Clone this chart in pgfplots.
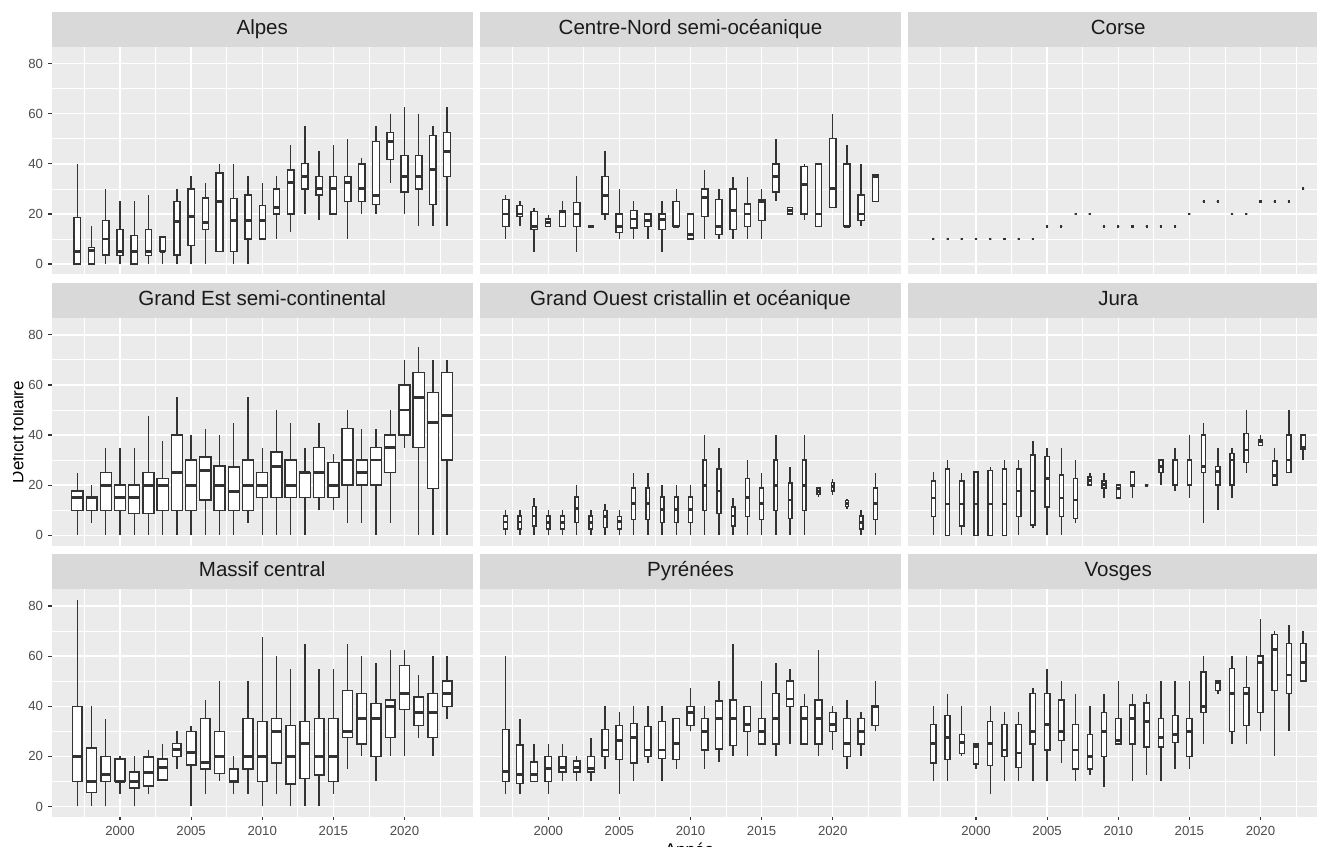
\documentclass[border=0pt]{standalone}
\usepackage{pgfplots}
\pgfplotsset{compat=1.18}
\usepackage{pgfplotstable}
\usepgfplotslibrary{statistics}
\usepackage{fontspec}
\setmainfont{Liberation Sans}

\definecolor{panelbg}{HTML}{EBEBEB}
\definecolor{stripbg}{HTML}{D9D9D9}
\definecolor{striptext}{HTML}{1A1A1A}
\definecolor{labelgray}{HTML}{4D4D4D}
\definecolor{tickgray}{HTML}{333333}
\definecolor{boxgray}{HTML}{333333}

% columns: year, lower whisker, lower quartile, median, upper quartile, upper whisker, box width
\pgfplotstableread{
yr lw lq md uq uw w
1997 0 0 5 18.6 40 0.45
1998 0 0 5.5 6.5 15 0.42
1999 0 3.6 10 17.5 30 0.45
2000 0 3.5 5 13.8 25 0.42
2001 0 0 5 11.4 25 0.45
2002 0 3.5 5 13.8 27.5 0.42
2003 0 5 5 10.8 10.8 0.36
2004 0 3.6 16.9 25 30 0.42
2005 0 7.4 18.9 30 35 0.46
2006 0 13.8 16.6 26.3 32.4 0.42
2007 5 5 25 36.4 40 0.48
2008 0 5 17.5 26.2 40 0.46
2009 0 10 17.5 27.6 35 0.45
2010 10 10 17.5 23.3 32.4 0.42
2011 10 20 22.6 30 35 0.42
2012 12.6 20 32.4 37.6 47.6 0.45
2013 20 30 35 40.1 55 0.46
2014 17.5 27.5 30 35 45 0.45
2015 20 20 30 35 47.6 0.46
2016 10 25 32.4 35 50 0.46
2017 20 25 30 40 42.5 0.45
2018 20 23.8 27.5 48.9 55 0.46
2019 32.4 41.7 48.9 52.6 60 0.48
2020 20 28.8 35 43.3 62.5 0.48
2021 15 30 35 43.3 60 0.48
2022 15 23.8 37.6 51.4 55 0.46
2023 15 35 45 52.6 62.5 0.48
}\tabAlpes

\pgfplotstableread{
yr lw lq md uq uw w
1997 10 14.9 20 25.8 27.4 0.45
1998 15.3 19 20 23.3 25 0.4
1999 5 13.8 15 21 22.5 0.45
2000 15 15 16.5 18 19.5 0.35
2001 15 15 21 21.3 25 0.45
2002 5 15 20 24.6 35 0.45
2003 15 15 15 15 15 0.4
2004 17.5 20 27.5 35 45 0.45
2005 10 12.5 15 20 30 0.45
2006 10 14.4 18 21.4 25 0.45
2007 10 15 17.5 20 20 0.45
2008 5 13.8 17.8 20 25 0.45
2009 15 15 15 25 30 0.45
2010 10 10 11.7 20 20 0.45
2011 10 18.9 26.6 30 37.5 0.45
2012 10 11.7 15 25.8 30 0.45
2013 10 13.8 21.4 30 34.8 0.45
2014 10 15 20 24 34.8 0.45
2015 10 17.5 25 25.8 30 0.45
2016 25 28.7 35 40 50 0.45
2017 20 20 21.3 22.5 22.5 0.35
2018 17.5 20 31.6 39 40 0.45
2019 15 15 20 40 40 0.45
2020 22.5 22.5 30 50 60 0.45
2021 15 15 15 40 47.6 0.45
2022 15 17.5 20 27.6 40 0.45
2023 25 25 35 35.5 35.5 0.4
}\tabCentre

\pgfplotstableread{
yr lw lq md uq uw w
1997 10 10 10 10 10 0.15
1998 10 10 10 10 10 0.15
1999 10 10 10 10 10 0.15
2000 10 10 10 10 10 0.15
2001 10 10 10 10 10 0.15
2002 10 10 10 10 10 0.15
2003 10 10 10 10 10 0.15
2004 10 10 10 10 10 0.15
2005 15 15 15 15 15 0.15
2006 15 15 15 15 15 0.15
2007 20 20 20 20 20 0.15
2008 20 20 20 20 20 0.15
2009 15 15 15 15 15 0.15
2010 15 15 15 15 15 0.15
2011 15 15 15 15 15 0.15
2012 15 15 15 15 15 0.15
2013 15 15 15 15 15 0.15
2014 15 15 15 15 15 0.15
2015 20 20 20 20 20 0.15
2016 25 25 25 25 25 0.15
2017 25 25 25 25 25 0.15
2018 20 20 20 20 20 0.15
2019 20 20 20 20 20 0.15
2020 25 25 25 25 25 0.15
2021 25 25 25 25 25 0.15
2022 25 25 25 25 25 0.15
2023 30 30 30 30 30 0.15
}\tabCorse

\pgfplotstableread{
yr lw lq md uq uw w
1997 0 10 15 17.7 25 0.78
1998 5 10 15 15.4 20 0.74
1999 0 10 20 25 35 0.78
2000 0 10 15 20 35 0.78
2001 0 8.8 15 20 35 0.78
2002 0 8.8 20 25 47.7 0.78
2003 0 10 20 22.6 37.5 0.78
2004 0 10 25 40 55 0.78
2005 0 10 20 30 40 0.78
2006 0 14 26 31.3 42.6 0.78
2007 0 10 20 27.6 40 0.78
2008 0 10 17.6 27.2 45 0.78
2009 5 10 20 30 55 0.78
2010 0 15 20 25 35 0.78
2011 0 15 27.6 33.3 50 0.78
2012 0 15 20 30 45 0.78
2013 0 15 25 25 35 0.78
2014 10 15 25 35 45 0.78
2015 10 15 20 29 32.6 0.78
2016 5 20 30 42.6 50 0.78
2017 5 20 25 30 42.6 0.78
2018 0 20 30 35 42.6 0.78
2019 5 25 35 40 50 0.78
2020 35 40 50 60 70 0.78
2021 0 35 55 65 75 0.78
2022 0 18.6 45 57 70 0.78
2023 0 30 47.7 65 70 0.78
}\tabGrandEst

\pgfplotstableread{
yr lw lq md uq uw w
1997 0 2.5 5.3 7.7 10 0.26
1998 0 2.5 5.3 7.7 10 0.26
1999 0 3.7 7.7 11.5 15 0.26
2000 0 2.5 5 7.7 10 0.26
2001 0 2.5 5 7.7 10 0.26
2002 0 5 10.6 15.2 20 0.26
2003 0 2.5 5 7.7 10 0.26
2004 0 3.2 7.5 10 12.5 0.26
2005 0 2.5 5.5 7.5 10 0.26
2006 0 6.4 12.8 18.9 25 0.26
2007 0 6.4 12.8 18.9 25 0.26
2008 0 5 10.4 15.2 20 0.26
2009 0 5 10.4 15.2 20 0.26
2010 0 5 10.4 15.2 20 0.26
2011 0 10 20 30 40 0.26
2012 0 8.8 17.7 26.4 35 0.26
2013 0 3.7 7.7 11.3 15 0.26
2014 0 7.5 15.2 22.6 30 0.26
2015 0 6.4 12.8 18.9 25 0.26
2016 0 10 20 30 40 0.26
2017 0 6.8 14.1 20.8 27.4 0.26
2018 0 10 20 30 40 0.26
2019 15.4 16.2 17.6 18.8 19.4 0.2
2020 16.1 17.6 19.4 21 22.4 0.2
2021 10.6 11.5 12.8 13.8 14.6 0.2
2022 0 2.5 5 7.7 10 0.26
2023 0 6.4 12.8 18.9 25 0.26
}\tabGrandOuest

\pgfplotstableread{
yr lw lq md uq uw w
1997 0 7.5 14.9 21.6 25.2 0.3
1998 0 0 12.5 26.4 30 0.3
1999 0 3.7 12.5 21.6 25 0.3
2000 0 0 12.5 25.3 25.3 0.3
2001 0 0 12.5 25.8 27.4 0.3
2002 0 0 12.5 26.4 30 0.3
2003 0 7.5 17.7 26.4 30 0.3
2004 2.8 4.1 17.7 32 37.5 0.3
2005 0 11.2 22.6 31.4 35 0.3
2006 0 7.5 14.9 24 35 0.3
2007 5 6.8 14.1 22.6 30 0.3
2008 20.1 20.1 22 23.2 25 0.28
2009 14.9 18.8 20.1 21.6 25 0.28
2010 14.9 14.9 18.8 20.1 20.1 0.28
2011 14.9 19.7 20 25.3 25.3 0.28
2012 20 20 20 20 20 0.25
2013 20 25 27.4 30 30 0.28
2014 17.6 20 30 30 35 0.3
2015 14.9 20 30 30 40 0.3
2016 5 25 27.4 40 45 0.3
2017 10 20 25.6 27.4 35 0.3
2018 14.9 20 30 32.6 35 0.3
2019 25 29 34 40.7 50 0.3
2020 35.8 35.8 37.3 38.2 40 0.25
2021 20 20 24 29.6 35 0.3
2022 25 25 30 40 50 0.3
2023 30 34.5 35 40 40 0.3
}\tabJura

\pgfplotstableread{
yr lw lq md uq uw w
1997 0 10 20 40 82.5 0.68
1998 0 5.6 10 23.3 40 0.68
1999 0 10 12.9 20 35 0.68
2000 5 10 10 18.9 20 0.68
2001 0 7.4 10 13.7 20 0.68
2002 5 8.1 13.7 19.7 22.5 0.68
2003 10.5 10.5 15.5 19 25 0.64
2004 15 20 22.6 25.2 30 0.6
2005 0 16.5 21.4 30 32.3 0.68
2006 5 15 17.7 35 42.5 0.68
2007 10 13.2 20 30 50 0.68
2008 5 9.6 10 15 20 0.6
2009 5 15 20 35 50 0.68
2010 0 10 20 33.8 67.5 0.68
2011 5 17.4 30 35 60 0.68
2012 0 8.9 20 32.4 55 0.68
2013 0 11.2 25 33.8 65 0.68
2014 0 12.6 20 35 55 0.68
2015 5 10 20 35 55 0.68
2016 15 27.5 29.8 46.2 65 0.68
2017 20 25 35 45 60 0.68
2018 10 20 35 41.2 57.4 0.68
2019 20 27.5 40 42.5 62.5 0.68
2020 20 38.7 45 56.2 62.5 0.68
2021 27.5 32.4 37.5 43.7 52.5 0.68
2022 20 27.5 37.5 45 60 0.68
2023 35 40 45 50 60 0.68
}\tabMassif

\pgfplotstableread{
yr lw lq md uq uw w
1997 5 10 14 30.8 60 0.47
1998 5 9.2 12.6 24.5 35 0.47
1999 10 10 12.9 17.7 25 0.47
2000 5 10 15.1 20 25 0.47
2001 10 13.7 15.5 20 25 0.47
2002 10 13.7 15.5 18.2 20 0.47
2003 10 13.7 15.3 20 27.5 0.47
2004 15 20 22.5 30.8 40 0.47
2005 5 18.7 26.3 32.4 37.5 0.47
2006 10 17.4 27.6 33.2 40 0.47
2007 17.4 20 22.5 31.9 40 0.47
2008 10 19.1 22.5 33.8 40 0.47
2009 15 18.7 25 35 35 0.47
2010 30 32.4 37.6 40 47.4 0.47
2011 15 22.5 30 35 40 0.47
2012 17.7 23 35 42.1 50 0.47
2013 20 24.3 35 42.5 65 0.47
2014 20 30 32.6 40 40 0.47
2015 25 25 30 35 50 0.47
2016 20 25 35 45 57.4 0.47
2017 25 40 42.9 50 55 0.47
2018 25 25 35 40 45 0.47
2019 20 25 35 42.5 62.3 0.47
2020 22.5 30 32.6 37.5 40 0.47
2021 15 20 25 35 42.5 0.47
2022 20 25 30 35 37.5 0.47
2023 30 32.4 40 40.1 50 0.47
}\tabPyrenees

\pgfplotstableread{
yr lw lq md uq uw w
1997 10 17.4 25 32.6 40 0.36
1998 10 18.7 27.5 36.3 45 0.36
1999 20 21.1 25.6 28.8 40 0.36
2000 15 16.9 24 25 25 0.36
2001 5 16.3 25 33.9 40 0.36
2002 10 20 22.5 32.6 37.5 0.36
2003 10 15.5 21.3 32.6 37.5 0.36
2004 10 25 30 45 47.4 0.4
2005 10 22.5 32.6 45 55 0.4
2006 17.4 26.3 30 42.5 50 0.36
2007 10 15 22.5 32.6 45 0.4
2008 12.6 15 20 28.8 40 0.36
2009 7.6 20 30 37.5 45 0.38
2010 25 25 26.3 35 50 0.38
2011 10 25 35 40.5 45 0.38
2012 12.6 23.8 33.8 41.3 45 0.38
2013 10 23.8 27.5 35 50 0.38
2014 15 25.6 28.8 36.3 50 0.38
2015 15 20 30 35 50 0.38
2016 25 37.5 40 53.7 60 0.36
2017 45 46.2 49.6 50 50 0.3
2018 25 30 45 55 60 0.38
2019 25 32.4 45 47.4 60 0.36
2020 30 37.5 57.4 60 75 0.38
2021 20 46.2 62.5 68.7 70 0.38
2022 30 45 52.5 65 72.4 0.38
2023 50 50 57.4 65 70 0.38
}\tabVosges

% x axis runs in years counted from 2000 (tick labels give the real years)
\newcommand{\drawboxes}[1]{%
  \pgfplotstablegetrowsof{#1}%
  \pgfmathtruncatemacro{\nrowsb}{\pgfplotsretval-1}%
  \pgfplotsforeachungrouped \rowi in {0,...,\nrowsb}{%
    \pgfplotstablegetelem{\rowi}{yr}\of{#1}\pgfmathtruncatemacro{\byr}{\pgfplotsretval-2000}%
    \pgfplotstablegetelem{\rowi}{lw}\of{#1}\let\blw\pgfplotsretval
    \pgfplotstablegetelem{\rowi}{lq}\of{#1}\let\blq\pgfplotsretval
    \pgfplotstablegetelem{\rowi}{md}\of{#1}\let\bmd\pgfplotsretval
    \pgfplotstablegetelem{\rowi}{uq}\of{#1}\let\buq\pgfplotsretval
    \pgfplotstablegetelem{\rowi}{uw}\of{#1}\let\buw\pgfplotsretval
    \pgfplotstablegetelem{\rowi}{w}\of{#1}\let\bw\pgfplotsretval
    \edef\doplot{\noexpand\addplot[bx, boxplot prepared={draw direction=y, draw position=\byr, lower whisker=\blw, lower quartile=\blq, median=\bmd, upper quartile=\buq, upper whisker=\buw, box extend=\bw, whisker extend=0}] coordinates {};}%
    \doplot
  }%
}

\pgfplotsset{
  facet/.style={
    scale only axis, width=315.75pt, height=170.55pt, anchor=south west,
    xmin=-4.8, xmax=24.8, ymin=-4.125, ymax=86.625,
    xtick={0,5,...,20}, xticklabels={2000,2005,2010,2015,2020},
    ytick={0,20,...,80},
    minor xtick={-2.5,2.5,...,22.5}, minor ytick={10,30,50,70},
    grid=both,
    major grid style={white, line width=1.1pt},
    minor grid style={white, line width=0.55pt},
    axis line style={draw=none},
    axis background/.style={fill=panelbg},
    tick align=outside, tick pos=left,
    major tick length=2.75pt, minor tick length=0pt,
    tick style={color=tickgray, line width=0.9pt},
    ticklabel style={font=\fontsize{9.9}{11}\selectfont, text=labelgray},
    yticklabel style={inner sep=0pt, xshift=-3.55pt},
    xticklabel style={inner sep=0pt, yshift=-4.1pt},
    /pgf/number format/assume math mode=true,
    boxplot/draw direction=y,
  },
  noxlab/.style={xticklabels={}, xtick style={draw=none}},
  noylab/.style={yticklabels={}, ytick style={draw=none}},
  bx/.style={draw=boxgray, line width=1.05pt, fill=white, solid,
    boxplot/every median/.style={line width=2.1pt}},
}

\newcommand{\strip}[3]{%
  \fill[stripbg] (#1,#2) rectangle ++(315.75pt,26.25pt);
  \node[text=striptext, font=\fontsize{15.4}{18}\selectfont, anchor=center, inner sep=0pt]
    at ([xshift=157.875pt,yshift=13.125pt]#1,#2) {\strut #3};
}

\begin{document}
\begin{tikzpicture}
% row 1
\begin{axis}[facet, noxlab, at={(38.8pt,428.7pt)}]
\drawboxes{\tabAlpes}
\end{axis}
\begin{axis}[facet, noxlab, noylab, at={(360pt,428.7pt)}]
\drawboxes{\tabCentre}
\end{axis}
\begin{axis}[facet, noxlab, noylab, at={(680.8pt,428.7pt)}]
\drawboxes{\tabCorse}
\end{axis}
% row 2
\begin{axis}[facet, noxlab, at={(38.8pt,225.3pt)}]
\drawboxes{\tabGrandEst}
\end{axis}
\begin{axis}[facet, noxlab, noylab, at={(360pt,225.3pt)}]
\drawboxes{\tabGrandOuest}
\end{axis}
\begin{axis}[facet, noxlab, noylab, at={(680.8pt,225.3pt)}]
\drawboxes{\tabJura}
\end{axis}
% row 3
\begin{axis}[facet, at={(38.8pt,21.9pt)}]
\drawboxes{\tabMassif}
\end{axis}
\begin{axis}[facet, noylab, at={(360pt,21.9pt)}]
\drawboxes{\tabPyrenees}
\end{axis}
\begin{axis}[facet, noylab, at={(680.8pt,21.9pt)}]
\drawboxes{\tabVosges}
\end{axis}

\strip{38.8pt}{599.25pt}{Alpes}
\strip{360pt}{599.25pt}{Centre-Nord semi-océanique}
\strip{680.8pt}{599.25pt}{Corse}
\strip{38.8pt}{395.85pt}{Grand Est semi-continental}
\strip{360pt}{395.85pt}{Grand Ouest cristallin et océanique}
\strip{680.8pt}{395.85pt}{Jura}
\strip{38.8pt}{192.45pt}{Massif central}
\strip{360pt}{192.45pt}{Pyrénées}
\strip{680.8pt}{192.45pt}{Vosges}

\node[rotate=90, anchor=base, inner sep=0pt, font=\fontsize{12.75}{15}\selectfont, text=black] at (17.5pt,310.5pt) {Déficit foliaire};
\fill[white] (-10pt,240pt) rectangle (9.5pt,380pt);
\node[anchor=base, inner sep=0pt, font=\fontsize{12.75}{15}\selectfont, text=black] at (517.1pt,-6.9pt) {Année};

\pgfresetboundingbox
\path[use as bounding box] (0,0) rectangle (987.75pt,634.5pt);
\end{tikzpicture}
\end{document}
